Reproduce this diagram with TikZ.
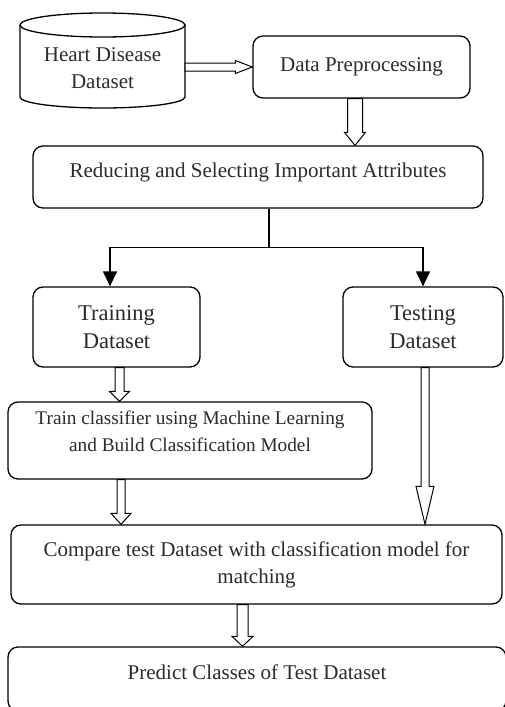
\documentclass[tikz,border=0pt]{standalone}
\usepackage{fontspec}
\setmainfont{Liberation Serif}
\usetikzlibrary{calc,arrows.meta}
\definecolor{txtgray}{HTML}{2B2B2B}
\newcommand\hhollow[5]{\draw[hollow] let \p1=#1, \p2=#2 in (\x1,\y1+#3) -- (\x2-#5,\y1+#3) -- (\x2-#5,\y1+#4) -- (\x2,\y1) -- (\x2-#5,\y1-#4) -- (\x2-#5,\y1-#3) -- (\x1,\y1-#3) -- cycle;}
\newcommand\vhollow[5]{\draw[hollow] let \p1=#1, \p2=#2 in (\x1-#3,\y1) -- (\x1-#3,\y2+#5) -- (\x1-#4,\y2+#5) -- (\x1,\y2) -- (\x1+#4,\y2+#5) -- (\x1+#3,\y2+#5) -- (\x1+#3,\y1) -- cycle;}
\begin{document}
\begin{tikzpicture}[x=1pt,y=-1pt,
  box/.style={draw, line width=1.3pt, rounded corners=10pt, inner sep=0pt},
  txt/.style={align=center, text=txtgray, font=\fontsize{21}{27}\selectfont, inner sep=0pt},
  hollow/.style={draw, fill=white, line width=1pt, line join=miter},
  solidarrow/.style={line width=1.3pt, -{Triangle[length=15pt,width=14pt]}}]
\useasboundingbox (0,0) rectangle (504,707);
% cylinder
\node[minimum width=165pt, minimum height=95pt, inner sep=0pt] (ds) at (102.5,60.5) {};
\draw[line width=1.3pt] (20,25) -- (20,97) arc[start angle=180, end angle=360, x radius=82.5pt, y radius=11pt] -- (185,25);
\draw[line width=1.3pt] (102.5,25) ellipse [x radius=82.5pt, y radius=12pt];
\node[txt] (dst) at (102.5,68) {Heart Disease\\Dataset};
% boxes
\node[box, txt, minimum width=217pt, minimum height=62pt] (dp) at (361.5,67) {Data Preprocessing};
\node[box, minimum width=450pt, minimum height=62pt] (red) at (258,177) {};
\node[txt] (redt) at (258,172) {Reducing and Selecting Important Attributes};
\node[box, txt, font=\fontsize{22.5}{28}\selectfont, minimum width=167pt, minimum height=80pt] (training) at (116.5,327) {Training\\Dataset};
\node[box, txt, font=\fontsize{22.5}{28}\selectfont, minimum width=160pt, minimum height=80pt] (testing) at (423,327) {Testing\\Dataset};
\node[box, minimum width=364pt, minimum height=77pt] (train) at (190,440.5) {};
\node[txt, font=\fontsize{19.3}{27}\selectfont] (traint) at (190,431.5) {Train classifier using Machine Learning\\and Build Classification Model};
\node[box, txt, minimum width=491pt, minimum height=79pt] (cmp) at (256.5,564.5) {Compare test Dataset with classification model for\\matching};
\node[box, minimum width=498pt, minimum height=64pt] (pred) at (257,679) {};
\node[txt] (predt) at (257,672) {Predict Classes of Test Dataset};
% connectors
\hhollow{($(ds.east)+(0,6.5)$)}{(dp.west)}{4pt}{6.5pt}{17pt}
\vhollow{($(dp.south)+(-6.5,0)$)}{(red.north)}{7.5pt}{10.5pt}{13pt}
\coordinate (br) at ($(red.south)+(11,39)$);
\draw[line width=1.3pt] ($(red.south)+(11,0)$) -- (br);
\draw[solidarrow] (br) -| ($(training.north)+(-6.5,0)$);
\draw[solidarrow] (br) -| (testing.north);
\vhollow{($(training.south)+(3,0)$)}{(train.north)}{4.5pt}{10pt}{10pt}
\vhollow{($(testing.south)+(2,0)$)}{(cmp.north)}{4pt}{9pt}{38pt}
\vhollow{($(train.south)+(-69,0)$)}{(cmp.north)}{4pt}{10pt}{11pt}
\vhollow{($(cmp.south)+(-14,0)$)}{(pred.north)}{5.5pt}{10.5pt}{10pt}
\end{tikzpicture}
\end{document}
